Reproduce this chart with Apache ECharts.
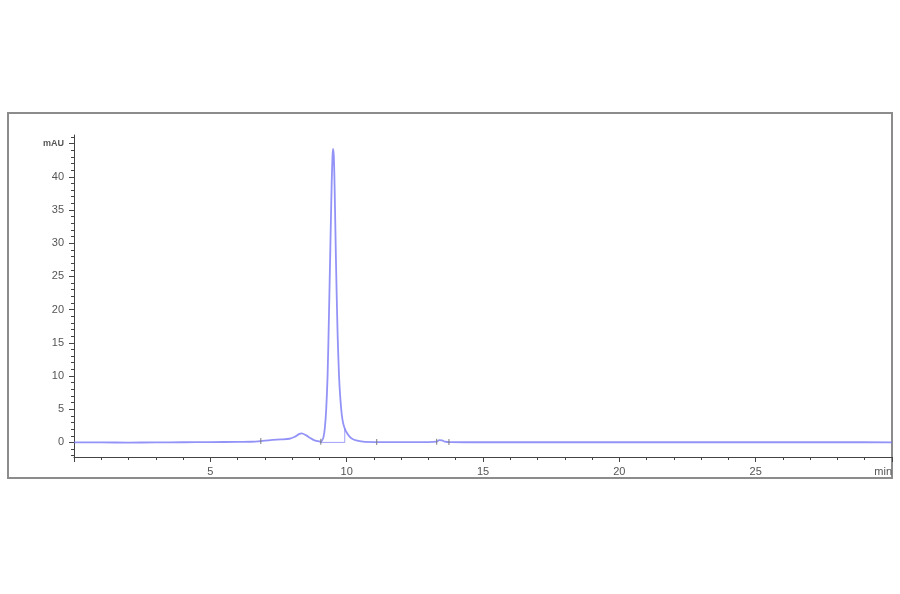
<!DOCTYPE html>
<html>
<head>
<meta charset="utf-8">
<script src="https://cdn.jsdelivr.net/npm/echarts@6/dist/echarts.min.js"></script>
<style>
html,body{margin:0;padding:0;background:#fff;}
#chart{width:900px;height:594px;}
</style>
</head>
<body>
<div id="chart"></div>
<script>
// retention time (min)
var times = [0, 1, 2, 3, 4, 5, 6, 6.5, 6.85, 7.2, 7.6, 7.9, 8.1, 8.25, 8.35, 8.5, 8.65, 8.8, 8.95,
  9.0, 9.05, 9.10, 9.15, 9.20, 9.25, 9.30, 9.35, 9.40, 9.45, 9.48, 9.50, 9.53, 9.56, 9.60, 9.63, 9.67,
  9.72, 9.77, 9.82, 9.87, 9.93, 10.0, 10.1, 10.2, 10.35, 10.6, 11.0, 11.5, 12, 13, 13.3, 13.4, 13.5,
  13.6, 13.8, 15, 20, 25, 28, 30];
// detector signal (mAU)
var signal = [0, 0, -0.03, 0, 0.02, 0.05, 0.07, 0.1, 0.2, 0.35, 0.45, 0.55, 0.85, 1.25, 1.35, 1.1, 0.7, 0.35, 0.18,
  0.15, 0.1, 0.3, 0.8, 2.2, 5, 10, 19, 29, 39, 43, 44.2, 43, 38, 29, 23, 16,
  10, 6.5, 4.2, 2.9, 2.1, 1.5, 0.9, 0.55, 0.3, 0.12, 0.05, 0.03, 0.03, 0.03, 0.1, 0.35, 0.3,
  0.12, 0.04, 0.02, 0.02, 0.02, 0.03, 0];
// integration event markers (min, mAU)
var markerTimes = [6.85, 9.05, 11.1, 13.3, 13.75];
var markerValues = [0.2, 0.1, 0.05, 0.1, 0.05];
// peak drop-line / baseline segment
var dropTimes = [9.05, 9.93, 9.93];
var dropValues = [0, 0, 2.1];
// axis ticks
var yMajorTicks = [0, 5, 10, 15, 20, 25, 30, 35, 40, 45];
var yMinorTicks = [];
for (var i = -2; i <= 46; i++) yMinorTicks.push(i);

function zip(a, b) { return a.map(function (v, i) { return [v, b[i]]; }); }

var axisColor = '#444';
var labelColor = '#555';
var chart = echarts.init(document.getElementById('chart'));
chart.setOption({
  animation: false,
  backgroundColor: '#fff',
  grid: [
    { left: 74, right: 8, top: 135, bottom: 137, show: false },
    { left: 8, right: 8, top: 113, bottom: 116, show: true, borderColor: '#8c8c8c', borderWidth: 2, backgroundColor: 'transparent' }
  ],
  xAxis: [
    {
      type: 'value', gridIndex: 0, min: 0, max: 30, interval: 5,
      axisLine: { show: true, onZero: false, lineStyle: { color: axisColor, width: 1 } },
      axisTick: { show: true, length: 5, lineStyle: { color: axisColor } },
      minorTick: { show: true, splitNumber: 5, length: 3, lineStyle: { color: axisColor } },
      splitLine: { show: false },
      axisLabel: {
        color: labelColor, fontSize: 11, fontFamily: 'Liberation Sans, Arial', margin: 9,
        showMinLabel: false,
        formatter: function (v) { return v === 30 ? '' : v; }
      },
      name: 'min', nameLocation: 'end', nameGap: 0,
      nameTextStyle: { color: labelColor, fontSize: 11, fontFamily: 'Liberation Sans, Arial', align: 'right', verticalAlign: 'top', padding: [9, 0, 0, 0] }
    },
    { type: 'value', gridIndex: 1, show: false, min: 0, max: 1 }
  ],
  yAxis: [
    {
      type: 'value', gridIndex: 0, min: -2.2, max: 46.3,
      axisLine: { show: true, onZero: false, lineStyle: { color: axisColor, width: 1 } },
      axisTick: { show: true, length: 5, customValues: yMajorTicks, lineStyle: { color: axisColor } },
      splitLine: { show: false },
      axisLabel: {
        customValues: yMajorTicks, color: labelColor, fontSize: 11, fontFamily: 'Liberation Sans, Arial', margin: 10,
        formatter: function (v) { return v === 45 ? '{u|mAU}' : v; },
        rich: { u: { fontSize: 9, fontWeight: 'bold', color: labelColor, fontFamily: 'Liberation Sans, Arial' } }
      }
    },
    {
      type: 'value', gridIndex: 0, min: -2.2, max: 46.3, position: 'left',
      axisLine: { show: false, onZero: false },
      axisTick: { show: true, length: 3, customValues: yMinorTicks, lineStyle: { color: axisColor } },
      axisLabel: { show: false },
      splitLine: { show: false }
    },
    { type: 'value', gridIndex: 1, show: false, min: 0, max: 1 }
  ],
  series: [
    {
      type: 'line', xAxisIndex: 0, yAxisIndex: 0,
      data: zip(times, signal),
      showSymbol: false, smooth: 0.25,
      lineStyle: { color: 'rgba(120,120,245,0.8)', width: 1.8 },
      z: 3
    },
    {
      type: 'line', xAxisIndex: 0, yAxisIndex: 0,
      data: zip(dropTimes, dropValues),
      showSymbol: false,
      lineStyle: { color: 'rgba(120,120,245,0.7)', width: 1 },
      z: 2
    },
    {
      type: 'scatter', xAxisIndex: 0, yAxisIndex: 0,
      data: zip(markerTimes, markerValues),
      symbol: 'rect', symbolSize: [1.2, 6],
      itemStyle: { color: '#777' },
      z: 4
    }
  ]
});
</script>
</body>
</html>
